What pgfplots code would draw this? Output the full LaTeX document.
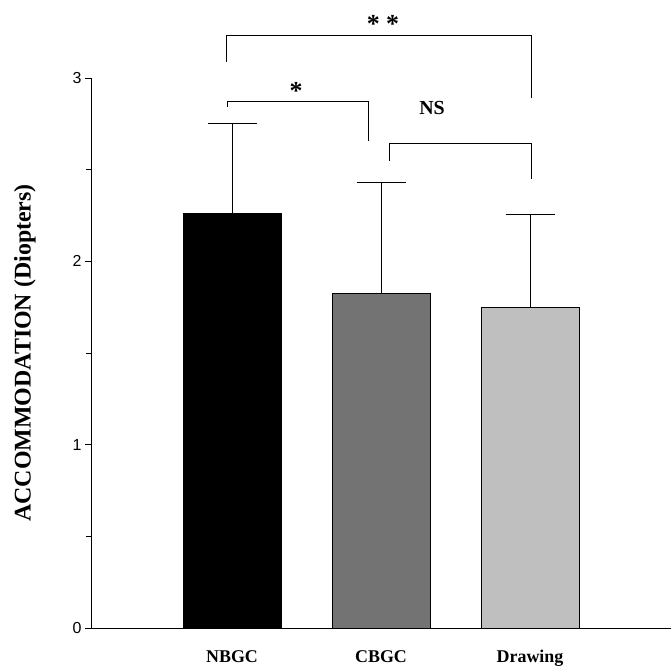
\documentclass[border=0pt]{standalone}
\usepackage{fontspec}
\setmainfont{Liberation Serif}
\setsansfont{Liberation Sans}
\usepackage{pgfplots}
\pgfplotsset{compat=1.18}
\begin{document}
\begin{tikzpicture}
\path[use as bounding box] (-91bp,-43bp) rectangle (580bp,628bp);
\begin{axis}[
  at={(0,0)}, anchor=south west,
  scale only axis, width=580bp, height=550bp,
  xmin=0.0537, xmax=3.946, ymin=0, ymax=3,
  clip=false,
  axis x line=bottom, axis y line=left,
  axis line style={-, line width=0.8bp},
  xtick={1,2,3}, xticklabels={NBGC,CBGC,Drawing},
  major x tick style={draw=none},
  xticklabel style={font=\bfseries\fontsize{18}{18}\selectfont, anchor=base, yshift=-28bp},
  ytick={0,1,2,3}, minor ytick={0.5,1.5,2.5},
  tick align=outside, major tick length=6bp, minor tick length=5bp,
  every tick/.style={black, line width=0.8bp},
  yticklabel style={font=\sffamily\fontsize{16}{16}\selectfont},
  /pgf/number format/assume math mode=true,
  ylabel={ACCOMMODATION (Diopters)},
  ylabel style={font=\bfseries\fontsize{24}{24}\selectfont, at={(axis description cs:-0.1138,0.5)}, anchor=center},
  error bars/y dir=plus, error bars/y explicit,
  error bars/error bar style={black, line width=0.8bp},
  error bars/error mark options={rotate=90, mark size=24.5bp, line width=0.8bp, black},
]
\addplot[ybar, bar shift=0pt, bar width=0.658, fill=black, draw=black, line width=0.8bp]
  coordinates {(1,2.264) +- (0,0.491)};
\addplot[ybar, bar shift=0pt, bar width=0.658, fill=black!55, draw=black, line width=0.8bp]
  coordinates {(2,1.827) +- (0,0.606)};
\addplot[ybar, bar shift=0pt, bar width=0.658, fill=black!25, draw=black, line width=0.8bp]
  coordinates {(3,1.747) +- (0,0.511)};
% significance brackets
\draw[line width=0.8bp] (axis cs:0.960,3.087) |- (axis cs:3.007,3.235) -- (axis cs:3.007,2.891);
\draw[line width=0.8bp] (axis cs:0.966,2.842) |- (axis cs:1.916,2.875) -- (axis cs:1.916,2.654);
\draw[line width=0.8bp] (axis cs:2.054,2.547) |- (axis cs:3.007,2.645) -- (axis cs:3.007,2.449);
\node[font=\bfseries\fontsize{26}{26}\selectfont, anchor=base] at (axis cs:2.013,3.250) {* *};
\node[font=\bfseries\fontsize{26}{26}\selectfont, anchor=base] at (axis cs:1.43,2.885) {*};
\node[font=\bfseries\fontsize{20}{20}\selectfont, anchor=base] at (axis cs:2.342,2.80) {NS};
\end{axis}
\end{tikzpicture}
\end{document}
